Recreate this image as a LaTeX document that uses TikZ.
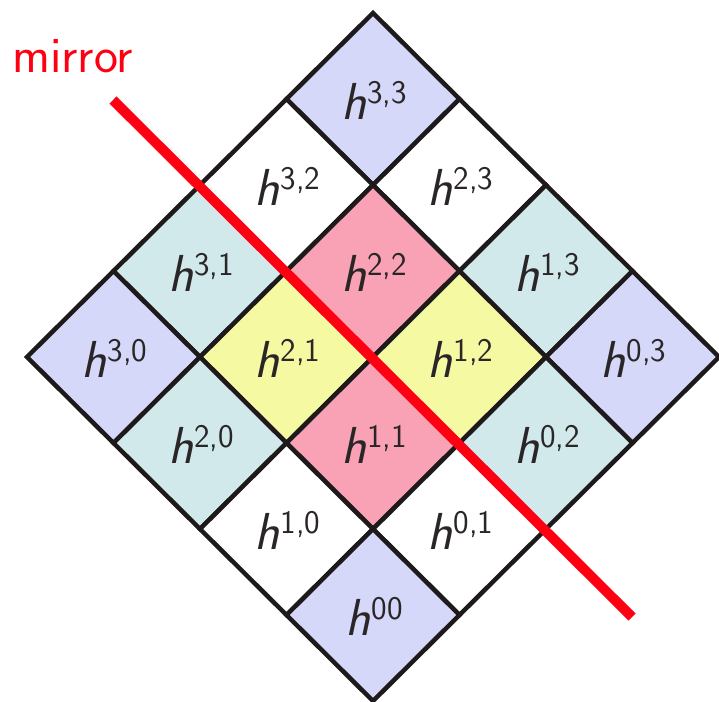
\documentclass[tikz,border=0pt]{standalone}
\usepackage{fontspec}
\definecolor{lav}{HTML}{D5D8F8}
\definecolor{cya}{HTML}{D1E9EB}
\definecolor{pnk}{HTML}{F9A2B5}
\definecolor{yel}{HTML}{F5F9A1}
\definecolor{mred}{HTML}{FF0013}
\definecolor{ink}{HTML}{1E1A1C}
\definecolor{txt}{HTML}{2A2628}
\newcommand{\hlab}[1]{\textit{h}\kern1pt\raisebox{16pt}{\fontsize{33}{33}\selectfont #1}}
\begin{document}
\begin{tikzpicture}[x=1pt,y=-1pt,
  cellline/.style={line width=4.5pt, line join=miter, draw=ink},
  lab/.style={font=\fontsize{52}{52}\selectfont\sffamily, inner sep=0pt, text=txt},
  mirrorline/.style={line width=10pt, draw=mred},
  mirrortext/.style={font=\fontsize{51}{51}\selectfont\sffamily, text=mred, inner sep=0pt, anchor=base west}]
\useasboundingbox (0,0) rectangle (719,701);
\foreach \p/\q/\c/\s in {3/3/lav/{3,3},3/2/white/{3,2},2/3/white/{2,3},3/1/cya/{3,1},2/2/pnk/{2,2},1/3/cya/{1,3},
  3/0/lav/{3,0},2/1/yel/{2,1},1/2/yel/{1,2},0/3/lav/{0,3},2/0/cya/{2,0},1/1/pnk/{1,1},0/2/cya/{0,2},
  1/0/white/{1,0},0/1/white/{0,1},0/0/lav/{00}} {
  \pgfmathsetmacro\cx{373+(\q-\p)*86.5}
  \pgfmathsetmacro\cy{357-(\p+\q-3)*86}
  \filldraw[fill=\c, cellline] (\cx,\cy-86) -- (\cx+86.5,\cy) -- (\cx,\cy+86) -- (\cx-86.5,\cy) -- cycle;
  \node[lab, anchor=base] (h\p\q) at (\cx+1,\cy+20) {\hlab{\s}};
}
\coordinate (m1) at (113,100);
\coordinate (m2) at (632,617);
\draw[mirrorline] (m1) -- (m2);
\node[mirrortext] (mt) at (12,72) {mirror};
\end{tikzpicture}
\end{document}
